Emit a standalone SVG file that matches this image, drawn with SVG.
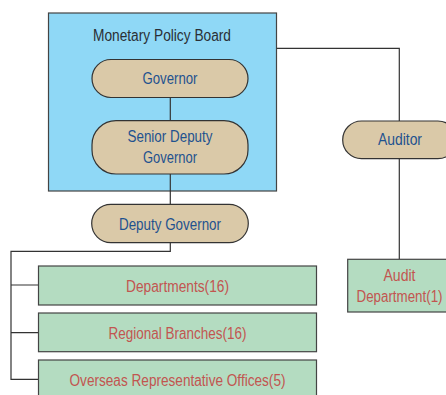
<svg xmlns="http://www.w3.org/2000/svg" width="446" height="395" viewBox="0 0 446 395">
<style>
.pill{fill:#dac9a8;stroke:#333;stroke-width:1.2}
.board{fill:#8fd8f6;stroke:#444;stroke-width:1.2}
.unit{fill:#b4dcc1;stroke:#444;stroke-width:1.2}
.ln{fill:none;stroke:#333;stroke-width:1.2}
text{font-family:"Liberation Sans Narrow","Liberation Sans",Arial,sans-serif;font-size:16px;text-anchor:middle}
.dk{fill:#2a2f35}
.bl{fill:#1f528f}
.rd{fill:#c25550}
</style>
<rect width="446" height="395" fill="#fff"/>
<g id="monetary-policy-board">
<rect class="board" x="48.5" y="13" width="228" height="178"/>
<text class="dk" x="162" y="41" textLength="138" lengthAdjust="spacingAndGlyphs">Monetary Policy Board</text>
</g>
<g id="connectors">
<path class="ln" d="M170.3 97.3V121"/>
<path class="ln" d="M170.3 174V204.3"/>
<path class="ln" d="M170.3 242.7V251.3H11V379.3H38.5"/>
<path class="ln" d="M11 285H38.5M11 332.7H38.5"/>
<path class="ln" d="M276.7 48.3H399.3V121"/>
<path class="ln" d="M399.3 158.7V259.3"/>
</g>
<g id="governor">
<rect class="pill" x="92" y="59.5" width="156" height="38" rx="19"/>
<text class="bl" x="170" y="84" textLength="55" lengthAdjust="spacingAndGlyphs">Governor</text>
</g>
<g id="senior-deputy-governor">
<rect class="pill" x="92" y="120.7" width="156" height="53.3" rx="24"/>
<text class="bl" x="170" y="142" textLength="85" lengthAdjust="spacingAndGlyphs">Senior Deputy</text>
<text class="bl" x="170" y="162.7" textLength="54" lengthAdjust="spacingAndGlyphs">Governor</text>
</g>
<g id="deputy-governor">
<rect class="pill" x="91.7" y="204.3" width="156.6" height="38.4" rx="19.2"/>
<text class="bl" x="170" y="230" textLength="102" lengthAdjust="spacingAndGlyphs">Deputy Governor</text>
</g>
<g id="auditor">
<rect class="pill" x="342.7" y="121" width="114" height="37.7" rx="18.8"/>
<text class="bl" x="400" y="145" textLength="44" lengthAdjust="spacingAndGlyphs">Auditor</text>
</g>
<g id="audit-department">
<rect class="unit" x="347.7" y="259.3" width="104" height="52.7"/>
<text class="rd" x="399.5" y="280.7" textLength="32" lengthAdjust="spacingAndGlyphs">Audit</text>
<text class="rd" x="399.5" y="301.7" textLength="86" lengthAdjust="spacingAndGlyphs">Department(1)</text>
</g>
<g id="departments">
<rect class="unit" x="38.5" y="266" width="278" height="39"/>
<text class="rd" x="177.5" y="291.7" textLength="103" lengthAdjust="spacingAndGlyphs">Departments(16)</text>
</g>
<g id="regional-branches">
<rect class="unit" x="38.5" y="313" width="278" height="38.7"/>
<text class="rd" x="177.5" y="339" textLength="138" lengthAdjust="spacingAndGlyphs">Regional Branches(16)</text>
</g>
<g id="overseas-offices">
<rect class="unit" x="38.5" y="360" width="278" height="39"/>
<text class="rd" x="177.5" y="385.7" textLength="216" lengthAdjust="spacingAndGlyphs">Overseas Representative Offices(5)</text>
</g>
</svg>
